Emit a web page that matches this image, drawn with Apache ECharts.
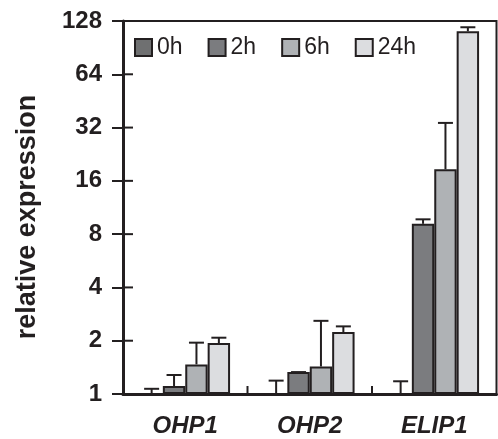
<!DOCTYPE html>
<html>
<head>
<meta charset="utf-8">
<script src="https://cdn.jsdelivr.net/npm/echarts@6/dist/echarts.min.js"></script>
<style>
html,body{margin:0;padding:0;background:#fff;}
#c{width:498px;height:439px;}
</style>
</head>
<body>
<div id="c"></div>
<script>
// Data
const categories = ['OHP1', 'OHP2', 'ELIP1'];
const seriesNames = ['0h', '2h', '6h', '24h'];
const values0h = [1, 1, 1];
const values2h = [1.11, 1.33, 9.15];
const values6h = [1.47, 1.43, 18.6];
const values24h = [1.94, 2.24, 112];
const err0h = [1.07, 1.19, 1.18];
const err2h = [1.28, 1.33, 9.7];
const err6h = [1.95, 2.59, 34];
const err24h = [2.08, 2.41, 118];
const yTicks = [1, 2, 4, 8, 16, 32, 64, 128];

const colors = ['#6f7071', '#7b7c7f', '#afb2b5', '#dcdde0'];
const ink = '#231f20';

const allValues = [values0h, values2h, values6h, values24h];
const allErrs = [err0h, err2h, err6h, err24h];
const GAP = 0.28;

const barSeries = seriesNames.map((n, i) => ({
  name: n,
  type: 'bar',
  data: allValues[i],
  barGap: '0%',
  barCategoryGap: (GAP * 100) + '%',
  itemStyle: { color: colors[i], borderColor: ink, borderWidth: 2 },
  z: 2
}));

const errData = [];
allErrs.forEach((arr, s) => {
  arr.forEach((e, c) => {
    errData.push([c, allValues[s][c], e, s]);
  });
});

const lineStyle = { stroke: ink, lineWidth: 2, fill: null };

const errSeries = {
  type: 'custom',
  data: errData,
  encode: { x: 0, y: [1, 2] },
  z: 3,
  silent: true,
  renderItem: function (params, api) {
    const cat = api.value(0);
    const s = api.value(3);
    const bandW = api.size([1, 1])[0];
    const barW = bandW * (1 - GAP) / 4;
    const cx = api.coord([cat, 1])[0] + (s - 1.5) * barW;
    const yTop = api.coord([cat, api.value(1)])[1];
    const yErr = api.coord([cat, api.value(2)])[1];
    const cap = 15;
    return {
      type: 'group',
      children: [
        { type: 'line', shape: { x1: cx, y1: yTop, x2: cx, y2: yErr }, style: lineStyle },
        { type: 'line', shape: { x1: cx - cap / 2, y1: yErr, x2: cx + cap / 2, y2: yErr }, style: lineStyle }
      ]
    };
  }
};

// Inward-pointing tick marks on the value axis, placed through the axis scale
const yInnerTicks = {
  type: 'custom',
  data: yTicks.map(v => [0, v]),
  z: 4,
  silent: true,
  renderItem: function (params, api) {
    const x0 = params.coordSys.x;
    const y = api.coord([0, api.value(1)])[1];
    return { type: 'line', shape: { x1: x0, y1: y, x2: x0 + 10, y2: y }, style: lineStyle };
  }
};

// Inward-pointing tick marks between categories
const xInnerTicks = {
  type: 'custom',
  data: categories.slice(1).map((c, i) => [i + 1, 1]),
  z: 4,
  silent: true,
  renderItem: function (params, api) {
    const bandW = api.size([1, 1])[0];
    const x = api.coord([api.value(0), 1])[0] - bandW / 2;
    const y0 = params.coordSys.y + params.coordSys.height;
    return { type: 'line', shape: { x1: x, y1: y0, x2: x, y2: y0 - 8 }, style: lineStyle };
  }
};

const chart = echarts.init(document.getElementById('c'), null, { renderer: 'canvas' });
const fontFam = 'Arial, "Liberation Sans", Helvetica, sans-serif';
chart.setOption({
  animation: false,
  backgroundColor: '#fff',
  color: colors,
  grid: {
    left: 123, right: 1.5, top: 21, bottom: 45,
    outerBoundsMode: 'none',
    show: true, borderColor: ink, borderWidth: 2
  },
  legend: {
    data: seriesNames,
    left: 134, top: 36, padding: 0,
    itemWidth: 17, itemHeight: 17, itemGap: 25,
    icon: 'rect',
    textStyle: { fontSize: 23, color: ink, fontFamily: fontFam }
  },
  graphic: [{
    type: 'text',
    x: 28, y: 217,
    rotation: Math.PI / 2,
    style: {
      text: 'relative expression',
      font: 'bold 27px ' + fontFam,
      fill: ink,
      textAlign: 'center',
      textVerticalAlign: 'middle'
    }
  }],
  xAxis: {
    type: 'category',
    data: categories,
    axisLine: { lineStyle: { color: ink, width: 3 } },
    axisTick: { show: false },
    axisLabel: {
      margin: 20,
      fontSize: 24, fontWeight: 'bold', fontStyle: 'italic',
      color: ink, fontFamily: fontFam
    }
  },
  yAxis: {
    type: 'log',
    logBase: 2,
    min: yTicks[0],
    max: yTicks[yTicks.length - 1],
    splitNumber: yTicks.length - 1,
    splitLine: { show: false },
    position: 'left',
    axisLine: { show: true, lineStyle: { color: ink, width: 3 } },
    axisTick: { show: true, length: 11, lineStyle: { color: ink, width: 2 } },
    axisLabel: {
      margin: 21, fontSize: 24, fontWeight: 'bold', color: ink, fontFamily: fontFam,
      formatter: v => String(Math.round(v))
    }
  },
  series: barSeries.concat([errSeries, yInnerTicks, xInnerTicks])
});
</script>
</body>
</html>
